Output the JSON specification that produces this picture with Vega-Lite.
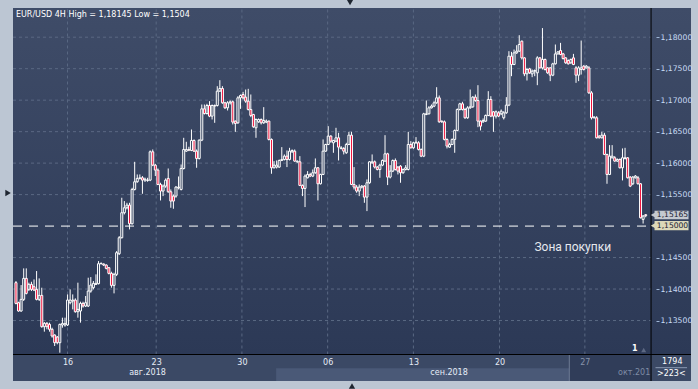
{
"$schema":"https://vega.github.io/schema/vega-lite/v6.json",
"width":688,"height":373,
"autosize":{"type":"none"},
"padding":{"left":8,"top":8,"right":2,"bottom":8},
"background":"#bcc6d3",
"config":{"view":{"stroke":null},"font":"DejaVu Sans"},
"data":{"values":[{}]},
"datasets":{"candles":[
{"t":1,"o":1.14101,"h":1.14127,"l":1.13757,"c":1.13772},
{"t":2,"o":1.13783,"h":1.13799,"l":1.13640,"c":1.13651},
{"t":3,"o":1.13651,"h":1.14063,"l":1.13640,"c":1.13836},
{"t":4,"o":1.13836,"h":1.14328,"l":1.13810,"c":1.14169},
{"t":5,"o":1.14169,"h":1.14328,"l":1.13915,"c":1.13931},
{"t":6,"o":1.13995,"h":1.14101,"l":1.13968,"c":1.14074},
{"t":7,"o":1.14074,"h":1.14116,"l":1.13968,"c":1.13995},
{"t":8,"o":1.14037,"h":1.14153,"l":1.13968,"c":1.13984},
{"t":9,"o":1.13995,"h":1.14286,"l":1.13820,"c":1.13836},
{"t":10,"o":1.13836,"h":1.14169,"l":1.13810,"c":1.13899},
{"t":11,"o":1.13899,"h":1.14021,"l":1.13386,"c":1.13402},
{"t":12,"o":1.13402,"h":1.13476,"l":1.13323,"c":1.13455},
{"t":13,"o":1.13455,"h":1.13476,"l":1.13360,"c":1.13402},
{"t":14,"o":1.13439,"h":1.13466,"l":1.13323,"c":1.13360},
{"t":15,"o":1.13360,"h":1.13386,"l":1.13228,"c":1.13254},
{"t":16,"o":1.13270,"h":1.13280,"l":1.13095,"c":1.13148},
{"t":17,"o":1.13238,"h":1.13254,"l":1.13122,"c":1.13148},
{"t":18,"o":1.13148,"h":1.13450,"l":1.12989,"c":1.13439},
{"t":19,"o":1.13429,"h":1.13545,"l":1.13386,"c":1.13455},
{"t":20,"o":1.13429,"h":1.13545,"l":1.13402,"c":1.13450},
{"t":21,"o":1.13429,"h":1.13915,"l":1.13413,"c":1.13825},
{"t":22,"o":1.13783,"h":1.13995,"l":1.13757,"c":1.13825},
{"t":23,"o":1.13810,"h":1.13915,"l":1.13677,"c":1.13825},
{"t":24,"o":1.13825,"h":1.13852,"l":1.13624,"c":1.13640},
{"t":25,"o":1.13640,"h":1.14101,"l":1.13545,"c":1.13677},
{"t":26,"o":1.13651,"h":1.13799,"l":1.13466,"c":1.13772},
{"t":27,"o":1.13772,"h":1.13799,"l":1.13704,"c":1.13730},
{"t":28,"o":1.13730,"h":1.13889,"l":1.13714,"c":1.13783},
{"t":29,"o":1.13730,"h":1.14180,"l":1.13714,"c":1.13968},
{"t":30,"o":1.13968,"h":1.14190,"l":1.13942,"c":1.14063},
{"t":31,"o":1.14021,"h":1.14127,"l":1.13995,"c":1.14090},
{"t":32,"o":1.14074,"h":1.14233,"l":1.14063,"c":1.14090},
{"t":33,"o":1.14085,"h":1.14444,"l":1.14074,"c":1.14402},
{"t":34,"o":1.14402,"h":1.14423,"l":1.14392,"c":1.14407},
{"t":35,"o":1.14397,"h":1.14407,"l":1.14365,"c":1.14381},
{"t":36,"o":1.14381,"h":1.14392,"l":1.14312,"c":1.14328},
{"t":37,"o":1.14339,"h":1.14349,"l":1.14233,"c":1.14249},
{"t":38,"o":1.14249,"h":1.14275,"l":1.14021,"c":1.14058},
{"t":39,"o":1.14058,"h":1.14259,"l":1.13931,"c":1.14233},
{"t":40,"o":1.14233,"h":1.14603,"l":1.14206,"c":1.14577},
{"t":41,"o":1.14561,"h":1.14841,"l":1.14540,"c":1.14815},
{"t":42,"o":1.14815,"h":1.15450,"l":1.14804,"c":1.15212},
{"t":43,"o":1.15212,"h":1.15397,"l":1.15185,"c":1.15291},
{"t":44,"o":1.15291,"h":1.15370,"l":1.15265,"c":1.15333},
{"t":45,"o":1.15333,"h":1.15370,"l":1.14947,"c":1.15037},
{"t":46,"o":1.15037,"h":1.15608,"l":1.15026,"c":1.15582},
{"t":47,"o":1.15582,"h":1.16021,"l":1.15566,"c":1.15704},
{"t":48,"o":1.15704,"h":1.15820,"l":1.15688,"c":1.15757},
{"t":49,"o":1.15757,"h":1.15820,"l":1.15741,"c":1.15767},
{"t":50,"o":1.15767,"h":1.15794,"l":1.15513,"c":1.15730},
{"t":51,"o":1.15730,"h":1.15770,"l":1.15700,"c":1.15745},
{"t":52,"o":1.15725,"h":1.15767,"l":1.15704,"c":1.15730},
{"t":53,"o":1.15730,"h":1.16201,"l":1.15714,"c":1.16180},
{"t":54,"o":1.16180,"h":1.16217,"l":1.15952,"c":1.15968},
{"t":55,"o":1.15968,"h":1.15989,"l":1.15794,"c":1.15889},
{"t":56,"o":1.15889,"h":1.15915,"l":1.15651,"c":1.15661},
{"t":57,"o":1.15661,"h":1.15688,"l":1.15407,"c":1.15556},
{"t":58,"o":1.15556,"h":1.15661,"l":1.15476,"c":1.15635},
{"t":59,"o":1.15635,"h":1.15757,"l":1.15608,"c":1.15730},
{"t":60,"o":1.15757,"h":1.15915,"l":1.15529,"c":1.15545},
{"t":61,"o":1.15545,"h":1.15582,"l":1.15291,"c":1.15397},
{"t":62,"o":1.15476,"h":1.15503,"l":1.15275,"c":1.15397},
{"t":63,"o":1.15476,"h":1.15635,"l":1.15450,"c":1.15619},
{"t":64,"o":1.15608,"h":1.15788,"l":1.15582,"c":1.15619},
{"t":65,"o":1.15582,"h":1.15979,"l":1.15566,"c":1.15915},
{"t":66,"o":1.15915,"h":1.16402,"l":1.15899,"c":1.16217},
{"t":67,"o":1.16190,"h":1.16339,"l":1.16180,"c":1.16217},
{"t":68,"o":1.16217,"h":1.16260,"l":1.16190,"c":1.16205},
{"t":69,"o":1.16201,"h":1.16534,"l":1.16190,"c":1.16360},
{"t":70,"o":1.16360,"h":1.16376,"l":1.16180,"c":1.16190},
{"t":71,"o":1.16190,"h":1.16217,"l":1.15926,"c":1.16074},
{"t":72,"o":1.16074,"h":1.16376,"l":1.16058,"c":1.16365},
{"t":73,"o":1.16365,"h":1.16931,"l":1.16349,"c":1.16862},
{"t":74,"o":1.16862,"h":1.16931,"l":1.16772,"c":1.16788},
{"t":75,"o":1.16788,"h":1.16942,"l":1.16772,"c":1.16915},
{"t":76,"o":1.16915,"h":1.16984,"l":1.16730,"c":1.16746},
{"t":77,"o":1.16746,"h":1.16931,"l":1.16693,"c":1.16915},
{"t":78,"o":1.16905,"h":1.16931,"l":1.16640,"c":1.16915},
{"t":79,"o":1.16915,"h":1.17222,"l":1.16899,"c":1.17143},
{"t":80,"o":1.17143,"h":1.17317,"l":1.17132,"c":1.17185},
{"t":81,"o":1.17185,"h":1.17222,"l":1.16942,"c":1.16958},
{"t":82,"o":1.16958,"h":1.16974,"l":1.16862,"c":1.16878},
{"t":83,"o":1.16878,"h":1.16984,"l":1.16836,"c":1.16958},
{"t":84,"o":1.16958,"h":1.16995,"l":1.16931,"c":1.16974},
{"t":85,"o":1.16974,"h":1.16995,"l":1.16614,"c":1.16651},
{"t":86,"o":1.16667,"h":1.16677,"l":1.16497,"c":1.16630},
{"t":87,"o":1.16640,"h":1.17063,"l":1.16624,"c":1.17037},
{"t":88,"o":1.17037,"h":1.17090,"l":1.16862,"c":1.17074},
{"t":89,"o":1.17090,"h":1.17132,"l":1.17011,"c":1.17037},
{"t":90,"o":1.17048,"h":1.17169,"l":1.16958,"c":1.16984},
{"t":91,"o":1.16984,"h":1.17180,"l":1.16836,"c":1.16852},
{"t":92,"o":1.16852,"h":1.17090,"l":1.16730,"c":1.16757},
{"t":93,"o":1.16772,"h":1.16783,"l":1.16561,"c":1.16577},
{"t":94,"o":1.16561,"h":1.16709,"l":1.16402,"c":1.16693},
{"t":95,"o":1.16656,"h":1.16709,"l":1.16640,"c":1.16693},
{"t":96,"o":1.16693,"h":1.16709,"l":1.16614,"c":1.16640},
{"t":97,"o":1.16640,"h":1.16889,"l":1.16624,"c":1.16677},
{"t":98,"o":1.16651,"h":1.16693,"l":1.16635,"c":1.16667},
{"t":99,"o":1.16667,"h":1.16677,"l":1.16360,"c":1.16376},
{"t":100,"o":1.16376,"h":1.16392,"l":1.15831,"c":1.15926},
{"t":101,"o":1.15926,"h":1.16032,"l":1.15915,"c":1.15968},
{"t":102,"o":1.15937,"h":1.16042,"l":1.15915,"c":1.15968},
{"t":103,"o":1.15937,"h":1.16058,"l":1.15926,"c":1.16042},
{"t":104,"o":1.16042,"h":1.16254,"l":1.16032,"c":1.16058},
{"t":105,"o":1.16058,"h":1.16138,"l":1.16042,"c":1.16111},
{"t":106,"o":1.16111,"h":1.16201,"l":1.15937,"c":1.16058},
{"t":107,"o":1.16058,"h":1.16243,"l":1.16042,"c":1.16190},
{"t":108,"o":1.16180,"h":1.16217,"l":1.16164,"c":1.16201},
{"t":109,"o":1.16190,"h":1.16217,"l":1.16021,"c":1.16032},
{"t":110,"o":1.16021,"h":1.16042,"l":1.16005,"c":1.16032},
{"t":111,"o":1.16021,"h":1.16111,"l":1.15635,"c":1.15646},
{"t":112,"o":1.15646,"h":1.15661,"l":1.15476,"c":1.15598},
{"t":113,"o":1.15598,"h":1.15820,"l":1.15302,"c":1.15794},
{"t":114,"o":1.15767,"h":1.15873,"l":1.15757,"c":1.15820},
{"t":115,"o":1.15820,"h":1.15847,"l":1.15778,"c":1.15794},
{"t":116,"o":1.15794,"h":1.15899,"l":1.15778,"c":1.15847},
{"t":117,"o":1.15847,"h":1.16074,"l":1.15831,"c":1.15926},
{"t":118,"o":1.15926,"h":1.15937,"l":1.15407,"c":1.15672},
{"t":119,"o":1.15672,"h":1.15831,"l":1.15661,"c":1.15820},
{"t":120,"o":1.15820,"h":1.16376,"l":1.15810,"c":1.16190},
{"t":121,"o":1.16190,"h":1.16307,"l":1.16180,"c":1.16296},
{"t":122,"o":1.16296,"h":1.16587,"l":1.16286,"c":1.16429},
{"t":123,"o":1.16429,"h":1.16444,"l":1.16323,"c":1.16349},
{"t":124,"o":1.16323,"h":1.16370,"l":1.16164,"c":1.16360},
{"t":125,"o":1.16349,"h":1.16561,"l":1.16333,"c":1.16402},
{"t":126,"o":1.16402,"h":1.16481,"l":1.16042,"c":1.16254},
{"t":127,"o":1.16233,"h":1.16270,"l":1.16217,"c":1.16243},
{"t":128,"o":1.16233,"h":1.16254,"l":1.16138,"c":1.16190},
{"t":129,"o":1.16164,"h":1.16323,"l":1.16148,"c":1.16296},
{"t":130,"o":1.16296,"h":1.16497,"l":1.16286,"c":1.16444},
{"t":131,"o":1.16444,"h":1.16497,"l":1.15651,"c":1.15661},
{"t":132,"o":1.15661,"h":1.15937,"l":1.15582,"c":1.15619},
{"t":133,"o":1.15619,"h":1.15651,"l":1.15529,"c":1.15556},
{"t":134,"o":1.15556,"h":1.15661,"l":1.15476,"c":1.15619},
{"t":135,"o":1.15619,"h":1.15651,"l":1.15598,"c":1.15635},
{"t":136,"o":1.15635,"h":1.15651,"l":1.15370,"c":1.15460},
{"t":137,"o":1.15460,"h":1.15741,"l":1.15238,"c":1.15688},
{"t":138,"o":1.15688,"h":1.16032,"l":1.15672,"c":1.16021},
{"t":139,"o":1.16005,"h":1.16138,"l":1.15989,"c":1.16021},
{"t":140,"o":1.16021,"h":1.16042,"l":1.15915,"c":1.15937},
{"t":141,"o":1.15937,"h":1.15952,"l":1.15884,"c":1.15899},
{"t":142,"o":1.15899,"h":1.15989,"l":1.15767,"c":1.15968},
{"t":143,"o":1.15968,"h":1.16058,"l":1.15952,"c":1.16042},
{"t":144,"o":1.16032,"h":1.16444,"l":1.16021,"c":1.16148},
{"t":145,"o":1.16148,"h":1.16164,"l":1.15651,"c":1.15778},
{"t":146,"o":1.15778,"h":1.15968,"l":1.15757,"c":1.15873},
{"t":147,"o":1.15873,"h":1.16058,"l":1.15857,"c":1.16042},
{"t":148,"o":1.16042,"h":1.16074,"l":1.15884,"c":1.15899},
{"t":149,"o":1.15937,"h":1.15952,"l":1.15820,"c":1.15873},
{"t":150,"o":1.15952,"h":1.15968,"l":1.15688,"c":1.15847},
{"t":151,"o":1.15847,"h":1.15915,"l":1.15831,"c":1.15899},
{"t":152,"o":1.15899,"h":1.15968,"l":1.15884,"c":1.15926},
{"t":153,"o":1.15899,"h":1.16497,"l":1.15884,"c":1.16296},
{"t":154,"o":1.16296,"h":1.16349,"l":1.16233,"c":1.16243},
{"t":155,"o":1.16243,"h":1.16339,"l":1.16228,"c":1.16323},
{"t":156,"o":1.16323,"h":1.16413,"l":1.16307,"c":1.16333},
{"t":157,"o":1.16323,"h":1.16349,"l":1.16201,"c":1.16217},
{"t":158,"o":1.16217,"h":1.16233,"l":1.16095,"c":1.16111},
{"t":159,"o":1.16111,"h":1.16799,"l":1.16095,"c":1.16783},
{"t":160,"o":1.16772,"h":1.16995,"l":1.16762,"c":1.16783},
{"t":161,"o":1.16783,"h":1.16905,"l":1.16772,"c":1.16878},
{"t":162,"o":1.16878,"h":1.16931,"l":1.16868,"c":1.16905},
{"t":163,"o":1.16905,"h":1.16984,"l":1.16889,"c":1.16958},
{"t":164,"o":1.16958,"h":1.17206,"l":1.16942,"c":1.17037},
{"t":165,"o":1.17037,"h":1.17074,"l":1.16640,"c":1.16656},
{"t":166,"o":1.16667,"h":1.16677,"l":1.16640,"c":1.16656},
{"t":167,"o":1.16656,"h":1.16677,"l":1.16360,"c":1.16376},
{"t":168,"o":1.16376,"h":1.16392,"l":1.16233,"c":1.16270},
{"t":169,"o":1.16254,"h":1.16323,"l":1.16243,"c":1.16296},
{"t":170,"o":1.16296,"h":1.16392,"l":1.16286,"c":1.16376},
{"t":171,"o":1.16376,"h":1.16534,"l":1.16164,"c":1.16519},
{"t":172,"o":1.16519,"h":1.16868,"l":1.16508,"c":1.16852},
{"t":173,"o":1.16852,"h":1.16958,"l":1.16836,"c":1.16942},
{"t":174,"o":1.16942,"h":1.16974,"l":1.16836,"c":1.16852},
{"t":175,"o":1.16852,"h":1.16878,"l":1.16704,"c":1.16720},
{"t":176,"o":1.16720,"h":1.16905,"l":1.16704,"c":1.16878},
{"t":177,"o":1.16878,"h":1.17169,"l":1.16862,"c":1.16894},
{"t":178,"o":1.16894,"h":1.17063,"l":1.16878,"c":1.17048},
{"t":179,"o":1.17048,"h":1.17090,"l":1.16974,"c":1.16995},
{"t":180,"o":1.16995,"h":1.17238,"l":1.16571,"c":1.16667},
{"t":181,"o":1.16667,"h":1.16677,"l":1.16519,"c":1.16587},
{"t":182,"o":1.16656,"h":1.16709,"l":1.16640,"c":1.16677},
{"t":183,"o":1.16667,"h":1.16772,"l":1.16656,"c":1.16757},
{"t":184,"o":1.16757,"h":1.17143,"l":1.16746,"c":1.17011},
{"t":185,"o":1.17011,"h":1.17063,"l":1.16730,"c":1.16746},
{"t":186,"o":1.16815,"h":1.16825,"l":1.16497,"c":1.16746},
{"t":187,"o":1.16746,"h":1.16836,"l":1.16709,"c":1.16815},
{"t":188,"o":1.16799,"h":1.16825,"l":1.16730,"c":1.16746},
{"t":189,"o":1.16783,"h":1.16852,"l":1.16762,"c":1.16825},
{"t":190,"o":1.16720,"h":1.16825,"l":1.16693,"c":1.16799},
{"t":191,"o":1.16799,"h":1.17048,"l":1.16783,"c":1.16921},
{"t":192,"o":1.16921,"h":1.17778,"l":1.16905,"c":1.17698},
{"t":193,"o":1.17698,"h":1.17767,"l":1.17381,"c":1.17566},
{"t":194,"o":1.17566,"h":1.17804,"l":1.17556,"c":1.17751},
{"t":195,"o":1.17751,"h":1.17873,"l":1.17735,"c":1.17778},
{"t":196,"o":1.17778,"h":1.18032,"l":1.17767,"c":1.17884},
{"t":197,"o":1.17937,"h":1.17947,"l":1.17646,"c":1.17672},
{"t":198,"o":1.17672,"h":1.17683,"l":1.17381,"c":1.17418},
{"t":199,"o":1.17418,"h":1.17513,"l":1.17312,"c":1.17487},
{"t":200,"o":1.17497,"h":1.17513,"l":1.17418,"c":1.17434},
{"t":201,"o":1.17418,"h":1.17487,"l":1.17365,"c":1.17460},
{"t":202,"o":1.17460,"h":1.17487,"l":1.17381,"c":1.17471},
{"t":203,"o":1.17434,"h":1.17698,"l":1.17238,"c":1.17672},
{"t":204,"o":1.17672,"h":1.17683,"l":1.17503,"c":1.17513},
{"t":205,"o":1.17513,"h":1.18145,"l":1.17487,"c":1.17646},
{"t":206,"o":1.17646,"h":1.17661,"l":1.17471,"c":1.17487},
{"t":207,"o":1.17513,"h":1.17524,"l":1.17418,"c":1.17434},
{"t":208,"o":1.17513,"h":1.17524,"l":1.17302,"c":1.17397},
{"t":209,"o":1.17397,"h":1.17593,"l":1.17381,"c":1.17577},
{"t":210,"o":1.17577,"h":1.17884,"l":1.17566,"c":1.17735},
{"t":211,"o":1.17735,"h":1.17778,"l":1.17725,"c":1.17767},
{"t":212,"o":1.17788,"h":1.17910,"l":1.17714,"c":1.17725},
{"t":213,"o":1.17735,"h":1.17751,"l":1.17646,"c":1.17661},
{"t":214,"o":1.17672,"h":1.17683,"l":1.17577,"c":1.17593},
{"t":215,"o":1.17630,"h":1.17646,"l":1.17566,"c":1.17577},
{"t":216,"o":1.17593,"h":1.17661,"l":1.17577,"c":1.17646},
{"t":217,"o":1.17672,"h":1.17735,"l":1.17556,"c":1.17566},
{"t":218,"o":1.17513,"h":1.17540,"l":1.17275,"c":1.17397},
{"t":219,"o":1.17397,"h":1.17540,"l":1.17302,"c":1.17513},
{"t":220,"o":1.17487,"h":1.17947,"l":1.17407,"c":1.17513},
{"t":221,"o":1.17540,"h":1.17556,"l":1.17471,"c":1.17487},
{"t":222,"o":1.17513,"h":1.17556,"l":1.17503,"c":1.17540},
{"t":223,"o":1.17513,"h":1.17540,"l":1.17101,"c":1.17116},
{"t":224,"o":1.17116,"h":1.17143,"l":1.16693,"c":1.16720},
{"t":225,"o":1.16720,"h":1.16746,"l":1.16709,"c":1.16730},
{"t":226,"o":1.16720,"h":1.16746,"l":1.16392,"c":1.16402},
{"t":227,"o":1.16429,"h":1.16444,"l":1.16392,"c":1.16402},
{"t":228,"o":1.16402,"h":1.16497,"l":1.16392,"c":1.16444},
{"t":229,"o":1.16444,"h":1.16481,"l":1.16127,"c":1.16138},
{"t":230,"o":1.16138,"h":1.16148,"l":1.15672,"c":1.15820},
{"t":231,"o":1.15820,"h":1.16286,"l":1.15810,"c":1.16111},
{"t":232,"o":1.16085,"h":1.16286,"l":1.16074,"c":1.16111},
{"t":233,"o":1.16085,"h":1.16111,"l":1.16021,"c":1.16032},
{"t":234,"o":1.16032,"h":1.16074,"l":1.16021,"c":1.16058},
{"t":235,"o":1.16058,"h":1.16074,"l":1.15915,"c":1.15926},
{"t":236,"o":1.15926,"h":1.16233,"l":1.15725,"c":1.16085},
{"t":237,"o":1.16074,"h":1.16243,"l":1.16058,"c":1.16085},
{"t":238,"o":1.16085,"h":1.16095,"l":1.15757,"c":1.15767},
{"t":239,"o":1.15778,"h":1.15794,"l":1.15619,"c":1.15635},
{"t":240,"o":1.15672,"h":1.15794,"l":1.15651,"c":1.15778},
{"t":241,"o":1.15767,"h":1.15810,"l":1.15757,"c":1.15794},
{"t":242,"o":1.15767,"h":1.15794,"l":1.15661,"c":1.15672},
{"t":243,"o":1.15672,"h":1.15683,"l":1.15122,"c":1.15132},
{"t":244,"o":1.15106,"h":1.15175,"l":1.15040,"c":1.15159},
{"t":245,"o":1.15180,"h":1.15190,"l":1.15140,"c":1.15165}
]},
"layer":[
{"mark":{"type":"rect","fill":{"gradient":"linear","x1":0,"y1":0,"x2":0,"y2":1,"stops":[{"offset":0,"color":"#3f4c68"},{"offset":1,"color":"#2c3956"}]}},
 "encoding":{
  "x":{"datum":-0.1455,"type":"quantitative","scale":{"domain":[-0.1455,262.55],"nice":false,"zero":false},
   "axis":{"orient":"bottom","offset":-26,"values":[20.97,55.33,88.55,121.77,154.99,188.36,221.43],
    "labelExpr":"datum.value < 30 ? '16' : datum.value < 60 ? '23' : datum.value < 100 ? '30' : datum.value < 130 ? '06' : datum.value < 160 ? '13' : datum.value < 200 ? '20' : '27'",
    "domain":false,"ticks":false,"tickSize":0,"grid":false,"title":null,"labelFont":"DejaVu Sans","labelFontSize":8,
    "labelColor":{"condition":{"test":"datum.value > 200","value":"#8793aa"},"value":"#e6ecf6"},
    "labelPadding":3,"labelFlush":false,"labelOverlap":false,"zindex":1}},
  "x2":{"datum":262.55},
  "y":{"datum":1.129603,"type":"quantitative","scale":{"domain":[1.125394,1.184638],"nice":false,"zero":false},
   "axis":{"orient":"right","offset":-40,"values":[1.135,1.14,1.145,1.155,1.16,1.165,1.17,1.175,1.18],
    "labelExpr":"replace(format(datum.value, '.5f'), '.', ',')",
    "domain":false,"ticks":true,"tickSize":3,"tickColor":"#9fb6d6","grid":false,"title":null,"labelFont":"DejaVu Sans","labelFontSize":7.7,
    "labelColor":"#c8dbf4","labelPadding":1,"labelFlush":false,"labelOverlap":false,"zindex":1}},
  "y2":{"datum":1.184638}}},
{"mark":{"type":"rect","fill":"#3b4965"},
 "encoding":{"x":{"datum":-0.1455,"type":"quantitative"},"x2":{"datum":262.55},"y":{"datum":1.125394,"type":"quantitative"},"y2":{"datum":1.129603}}},
{"mark":{"type":"rect","fill":"#4a5977"},
 "encoding":{"x":{"datum":101.8,"type":"quantitative"},"x2":{"datum":215.4},"y":{"datum":1.125394,"type":"quantitative"},"y2":{"datum":1.127411}}},
{"mark":{"type":"rect","fill":"#303d59"},
 "encoding":{"x":{"datum":215.4,"type":"quantitative"},"x2":{"datum":247.08},"y":{"datum":1.125394,"type":"quantitative"},"y2":{"datum":1.129603}}},
{"mark":{"type":"rule","color":"#6d7b94","strokeWidth":1},
 "encoding":{"x":{"datum":215.4,"type":"quantitative"},"y":{"datum":1.125394,"type":"quantitative"},"y2":{"datum":1.129603}}},
{"data":{"values":[{"p":1.135},{"p":1.14},{"p":1.145},{"p":1.155},{"p":1.16},{"p":1.165},{"p":1.17},{"p":1.175},{"p":1.18}]},
 "mark":{"type":"rule","color":"#5a6883","strokeWidth":1,"strokeDash":[3,3]},
 "encoding":{"y":{"field":"p","type":"quantitative"},"x":{"datum":-0.1455,"type":"quantitative"},"x2":{"datum":247.08}}},
{"data":{"values":[{"d":20.97},{"d":55.33},{"d":88.55},{"d":121.77},{"d":154.99},{"d":188.36},{"d":221.43}]},
 "mark":{"type":"rule","color":"#5a6883","strokeWidth":1,"strokeDash":[3,3]},
 "encoding":{"x":{"field":"d","type":"quantitative"},"y":{"datum":1.129603,"type":"quantitative"},"y2":{"datum":1.184638}}},
{"mark":{"type":"rule","color":"#ffffff","strokeWidth":1,"strokeDash":[9,7]},
 "encoding":{"y":{"datum":1.15,"type":"quantitative"},"x":{"datum":-0.1455,"type":"quantitative"},"x2":{"datum":247.08}}},
{"data":{"name":"candles"},
 "mark":{"type":"rule","color":"#ffffff","strokeWidth":1},
 "encoding":{"x":{"field":"t","type":"quantitative"},"y":{"field":"l","type":"quantitative"},"y2":{"field":"h"}}},
{"data":{"name":"candles"},
 "mark":{"type":"bar","width":2,"stroke":"#ffffff","strokeWidth":1},
 "encoding":{"x":{"field":"t","type":"quantitative"},"y":{"field":"o","type":"quantitative"},"y2":{"field":"c"},
  "fill":{"condition":{"test":"datum.c < datum.o","value":"#f0103a"},"value":"#35435f"}}},
{"mark":{"type":"rule","color":"#000000","strokeWidth":1},
 "encoding":{"x":{"datum":247.08,"type":"quantitative"},"y":{"datum":1.125394,"type":"quantitative"},"y2":{"datum":1.184638}}},
{"mark":{"type":"rule","color":"#000000","strokeWidth":1},
 "encoding":{"y":{"datum":1.129603,"type":"quantitative"},"x":{"datum":-0.1455,"type":"quantitative"},"x2":{"datum":262.55}}},
{"mark":{"type":"text","text":"EUR/USD 4H High = 1,18145 Low = 1,1504","align":"left","baseline":"middle","color":"#ffffff","font":"DejaVu Sans","fontSize":8},
 "encoding":{"x":{"datum":1,"type":"quantitative"},"y":{"datum":1.183526,"type":"quantitative"}}},
{"mark":{"type":"text","text":"Зона покупки","align":"center","baseline":"middle","color":"#e6e9ee","font":"Roboto","fontSize":12},
 "encoding":{"x":{"datum":216.73,"type":"quantitative"},"y":{"datum":1.146725,"type":"quantitative"}}},
{"mark":{"type":"text","text":"авг.2018","align":"center","baseline":"middle","color":"#e6ecf6","font":"DejaVu Sans","fontSize":8},
 "encoding":{"x":{"datum":51.97,"type":"quantitative"},"y":{"datum":1.126617,"type":"quantitative"}}},
{"mark":{"type":"text","text":"сен.2018","align":"center","baseline":"middle","color":"#e6ecf6","font":"DejaVu Sans","fontSize":8},
 "encoding":{"x":{"datum":168.81,"type":"quantitative"},"y":{"datum":1.126617,"type":"quantitative"}}},
{"mark":{"type":"text","text":"окт.201","align":"left","baseline":"middle","color":"#7f8ca5","font":"DejaVu Sans","fontSize":8},
 "encoding":{"x":{"datum":234.29,"type":"quantitative"},"y":{"datum":1.126617,"type":"quantitative"}}},
{"mark":{"type":"text","text":"1","align":"center","baseline":"middle","color":"#ffffff","font":"DejaVu Sans","fontSize":8,"fontWeight":"bold"},
 "encoding":{"x":{"datum":240.78,"type":"quantitative"},"y":{"datum":1.130476,"type":"quantitative"}}},
{"mark":{"type":"point","shape":"triangle-up","filled":true,"size":25,"color":"#5c6883","opacity":1},
 "encoding":{"x":{"datum":244.22,"type":"quantitative"},"y":{"datum":1.130317,"type":"quantitative"}}},
{"mark":{"type":"rect","fill":"#c4c9d0"},
 "encoding":{"x":{"datum":248.42,"type":"quantitative"},"x2":{"datum":261.59},"y":{"datum":1.151077,"type":"quantitative"},"y2":{"datum":1.152443}}},
{"mark":{"type":"point","shape":"triangle-left","filled":true,"size":45,"color":"#c4c9d0","opacity":1},
 "encoding":{"x":{"datum":248.1,"type":"quantitative"},"y":{"datum":1.15176,"type":"quantitative"}}},
{"mark":{"type":"text","text":"1,15165","align":"left","baseline":"middle","color":"#1b2131","font":"DejaVu Sans","fontSize":7.6},
 "encoding":{"x":{"datum":249.3,"type":"quantitative"},"y":{"datum":1.15176,"type":"quantitative"}}},
{"mark":{"type":"rect","fill":"#dcd8b9"},
 "encoding":{"x":{"datum":248.42,"type":"quantitative"},"x2":{"datum":261.59},"y":{"datum":1.14933,"type":"quantitative"},"y2":{"datum":1.150807}}},
{"mark":{"type":"point","shape":"triangle-left","filled":true,"size":45,"color":"#dcd8b9","opacity":1},
 "encoding":{"x":{"datum":248.1,"type":"quantitative"},"y":{"datum":1.15007,"type":"quantitative"}}},
{"mark":{"type":"text","text":"1,15000","align":"left","baseline":"middle","color":"#1b2131","font":"DejaVu Sans","fontSize":7.6},
 "encoding":{"x":{"datum":249.3,"type":"quantitative"},"y":{"datum":1.15007,"type":"quantitative"}}},
{"mark":{"type":"text","text":"1794","align":"center","baseline":"middle","color":"#ffffff","font":"DejaVu Sans","fontSize":8},
 "encoding":{"x":{"datum":255.3,"type":"quantitative"},"y":{"datum":1.128413,"type":"quantitative"}}},
{"mark":{"type":"rule","color":"#8a9ab3","strokeWidth":1},
 "encoding":{"y":{"datum":1.127506,"type":"quantitative"},"x":{"datum":248.8,"type":"quantitative"},"x2":{"datum":261.02}}},
{"mark":{"type":"text","text":">223<","align":"center","baseline":"middle","color":"#ffffff","font":"DejaVu Sans","fontSize":8},
 "encoding":{"x":{"datum":254.92,"type":"quantitative"},"y":{"datum":1.126506,"type":"quantitative"}}},
{"mark":{"type":"point","shape":"triangle-down","filled":true,"size":40,"color":"#1e2530","opacity":1},
 "encoding":{"x":{"datum":130.44,"type":"quantitative"},"y":{"datum":1.185511,"type":"quantitative"}}},
{"mark":{"type":"point","shape":"triangle-up","filled":true,"size":40,"color":"#1e2530","opacity":1},
 "encoding":{"x":{"datum":131.2,"type":"quantitative"},"y":{"datum":1.1246,"type":"quantitative"}}},
{"mark":{"type":"point","shape":"triangle-right","filled":true,"size":40,"color":"#1e2530","opacity":1},
 "encoding":{"x":{"datum":-2.055,"type":"quantitative"},"y":{"datum":1.155254,"type":"quantitative"}}}
]
}
